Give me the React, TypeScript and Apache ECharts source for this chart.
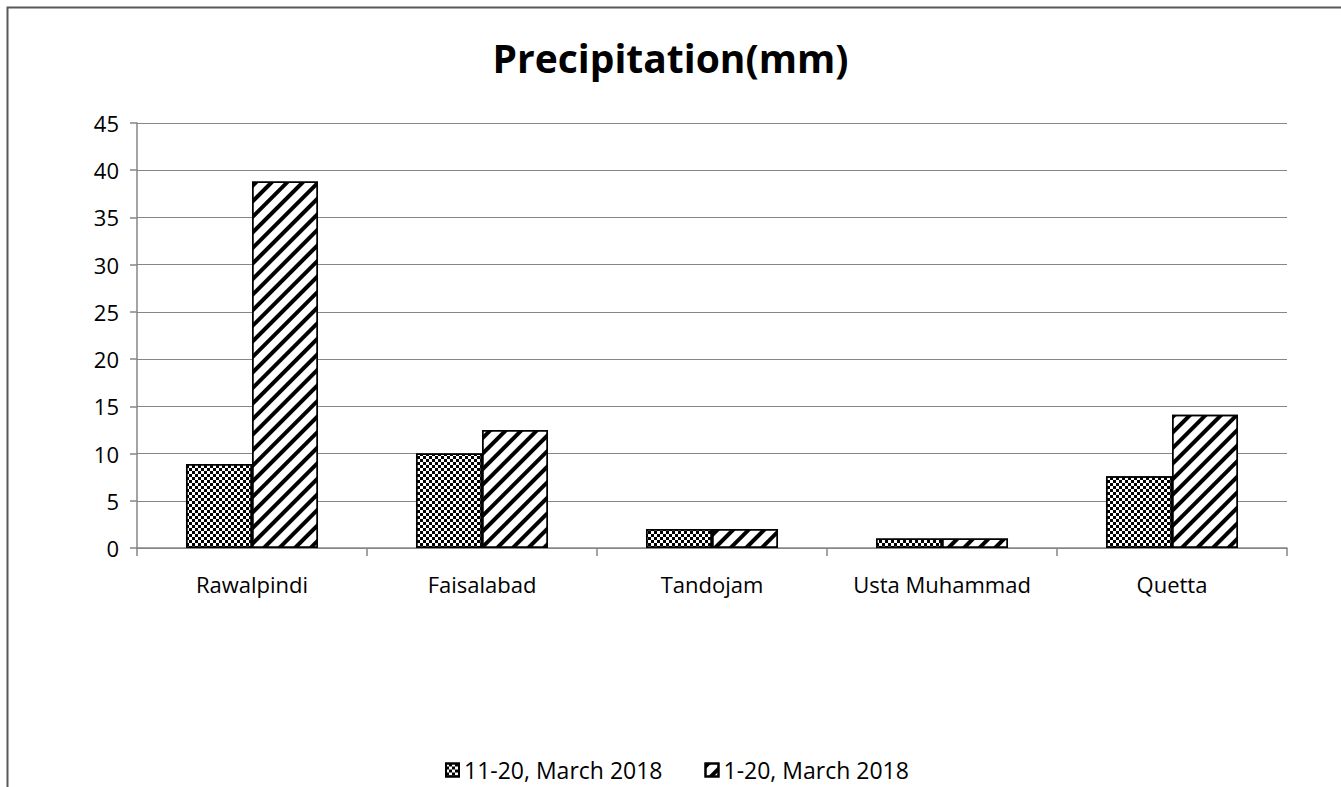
import React, { useEffect, useRef } from "react";
import * as echarts from "echarts";

const categories = ["Rawalpindi", "Faisalabad", "Tandojam", "Usta Muhammad", "Quetta"];
const seriesNames = ["11-20, March 2018", "1-20, March 2018"];
const values1120 = [8.9, 10.0, 2.0, 1.0, 7.6];
const values0120 = [38.8, 12.5, 2.0, 1.0, 14.1];
const titleText = "Precipitation(mm)";

const FONT = "'Open Sans', 'Noto Sans', sans-serif";
const AXIS_GRAY = "#868686";

export default function App() {
  const ref = useRef<HTMLDivElement>(null);
  useEffect(() => {
    document.body.style.margin = "0";
    const chart = echarts.init(ref.current!, null, { renderer: "svg" });
    const checkerDecal = {
      symbol: "rect",
      symbolSize: 1,
      color: "#000000",
      dashArrayX: [[3, 3], [0, 3, 3, 0]],
      dashArrayY: [3, 0],
      rotation: 0,
    };
    const stripeDecal = {
      symbol: "rect",
      symbolSize: 1,
      color: "#000000",
      dashArrayX: [1, 0],
      dashArrayY: [3.5, 7],
      rotation: -Math.PI / 4,
    };
    chart.setOption({
      animation: false,
      backgroundColor: "#ffffff",
      textStyle: { fontFamily: FONT },
      title: {
        text: titleText,
        left: "center",
        top: 33,
        textStyle: { fontFamily: FONT, fontWeight: "bold", fontSize: 39, color: "#000" },
      },
      graphic: [
        {
          type: "rect",
          left: 5,
          top: 5,
          shape: { x: 0, y: 0, width: 1400, height: 900 },
          style: { fill: "none", stroke: "#595959", lineWidth: 2 },
          silent: true,
        },
      ],
      legend: {
        top: 752,
        left: 440,
        itemWidth: 13,
        itemHeight: 13,
        itemGap: 42,
        icon: "rect",
        textStyle: { fontFamily: FONT, fontSize: 23, color: "#000", lineHeight: 26 },
        data: seriesNames,
      },
      grid: { left: 137, right: 54, top: 123, bottom: 239 },
      xAxis: {
        type: "category",
        data: categories,
        axisLine: { show: true, lineStyle: { color: AXIS_GRAY, width: 1.5 } },
        axisTick: { show: true, interval: 0, length: 8, lineStyle: { color: AXIS_GRAY, width: 1.5 } },
        axisLabel: { color: "#000", interval: 0, fontSize: 22, fontFamily: FONT, margin: 25 },
      },
      yAxis: {
        type: "value",
        min: 0,
        max: 45,
        interval: 5,
        axisLine: { show: true, lineStyle: { color: AXIS_GRAY, width: 1.5 } },
        axisTick: { show: true, length: 7, lineStyle: { color: AXIS_GRAY, width: 1.5 } },
        splitLine: { show: true, lineStyle: { color: AXIS_GRAY, width: 1.2 } },
        axisLabel: { color: "#000", fontSize: 22, fontFamily: FONT, margin: 18 },
      },
      series: [
        {
          name: seriesNames[0],
          type: "bar",
          data: values1120,
          barGap: "0%",
          barCategoryGap: "42.6%",
          itemStyle: { color: "#ffffff", borderColor: "#000", borderWidth: 1.5, decal: checkerDecal },
        },
        {
          name: seriesNames[1],
          type: "bar",
          data: values0120,
          barGap: "0%",
          barCategoryGap: "42.6%",
          itemStyle: { color: "#ffffff", borderColor: "#000", borderWidth: 1.5, decal: stripeDecal },
        },
      ],
    });
    return () => chart.dispose();
  }, []);
  return <div ref={ref} style={{ width: 1341, height: 787 }} />;
}
